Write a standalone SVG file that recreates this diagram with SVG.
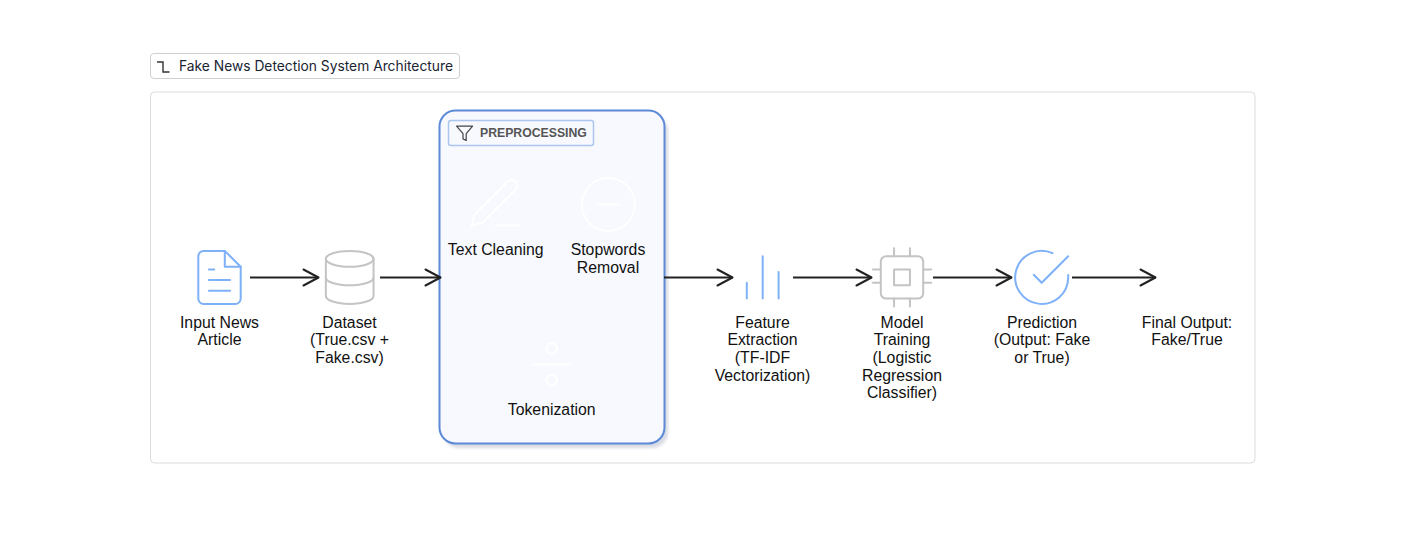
<svg xmlns="http://www.w3.org/2000/svg" width="1409" height="557" viewBox="0 0 1409 557">
<style>
.lbl{font-family:"Liberation Sans",Arial,sans-serif;font-size:15.800px;fill:#111;text-anchor:middle}
.ico{fill:none;stroke-width:.76;stroke-linecap:round;stroke-linejoin:round}
.blue{stroke:#7fb1f8}.grey{stroke:#c4c4c4}.white{stroke:#fff}
.conn{fill:none;stroke:#222;stroke-width:2;marker-end:url(#arr)}
</style>
<defs>
<marker id="arr" markerUnits="userSpaceOnUse" viewBox="-17 -10 19 20" refX="0" refY="0" markerWidth="19" markerHeight="20" orient="auto"><path d="M-15-8L0 0L-15 8" fill="none" stroke="#222" stroke-width="2" stroke-linecap="round" stroke-linejoin="round"/></marker>
<filter id="soft" x="-5%" y="-5%" width="110%" height="110%"><feGaussianBlur stdDeviation="1.500"/></filter>
</defs>
<rect width="1409" height="557" fill="#fff"/>
<g id="title">
<rect x="150.500" y="53.500" width="309" height="25" rx="3.500" fill="#fff" stroke="#d0d0d0"/>
<path d="M157.500 62H163V72H169" fill="none" stroke="#333" stroke-width="1.400" stroke-linecap="round"/>
<text x="179" y="71" font-family="Inter,'Liberation Sans',sans-serif" font-size="13.800" fill="#1a2433">Fake News Detection System Architecture</text>
</g>
<rect id="card" x="150.500" y="92" width="1104.500" height="371" rx="4" fill="#fff" stroke="#dcdcdc"/>
<g id="preprocessing">
<rect x="443" y="115" width="225" height="333" rx="16" fill="#d8dbe3" filter="url(#soft)"/>
<rect x="439.500" y="110.500" width="225" height="333" rx="16" fill="#f7f9fe" stroke="#5c8ad6" stroke-width="2"/>
<rect x="448.500" y="120.500" width="145" height="25" rx="2.500" fill="#f7f9fe" stroke="#abc7f0" stroke-width="1.500"/>
<path transform="translate(455 123.700) scale(.8)" d="M22 3H2L10 12.460V19L14 21V12.460Z" fill="none" stroke="#444" stroke-width="1.500" stroke-linejoin="round"/>
<text x="480" y="137" font-family="'Liberation Sans',Arial,sans-serif" font-size="12.250" font-weight="700" fill="#555">PREPROCESSING</text>
</g>
<g id="text-cleaning">
<g class="ico white" transform="translate(463.700 172.500) scale(2.650)"><path d="M12 20h9"/><path d="M16.500 3.500a2.121 2.121 0 0 1 3 3L7 19l-4 1 1-4L16.500 3.500z"/></g>
<text class="lbl" x="495.700" y="254.500">Text Cleaning</text>
</g>
<g id="stopwords-removal">
<g class="ico white" transform="translate(576.500 172.700) scale(2.650)"><circle cx="12" cy="12" r="10"/><path d="M8 12h8"/></g>
<text class="lbl" x="608" y="254.500">Stopwords</text><text class="lbl" x="608" y="272.500">Removal</text>
</g>
<g id="tokenization">
<g class="ico white" transform="translate(519.900 332.700) scale(2.650)"><circle cx="12" cy="6" r="2"/><path d="M5 12h14"/><circle cx="12" cy="18" r="2"/></g>
<text class="lbl" x="551.700" y="414.500">Tokenization</text>
</g>
<g id="connectors">
<path class="conn" d="M250 277.500H318.500"/>
<path class="conn" d="M380 277.500H440.500"/>
<path class="conn" d="M664 277.500H732.500"/>
<path class="conn" d="M793 277.500H871.500"/>
<path class="conn" d="M933 277.500H1011.500"/>
<path class="conn" d="M1072 277.500H1155.500"/>
</g>
<g id="input-news-article">
<g class="ico blue" transform="translate(187.700 245.600) scale(2.650)"><path d="M14 2H6a2 2 0 0 0-2 2v16a2 2 0 0 0 2 2h12a2 2 0 0 0 2-2V8z"/><path d="M14 2V8H20"/><path d="M16 13H8M16 17H8M10 9H8"/></g>
<text class="lbl" x="219.500" y="327.800">Input News</text><text class="lbl" x="219.500" y="345">Article</text>
</g>
<g id="dataset">
<g class="ico grey" transform="translate(317.900 245.600) scale(2.650)"><ellipse cx="12" cy="5" rx="9" ry="3"/><path d="M21 12c0 1.660-4 3-9 3s-9-1.340-9-3"/><path d="M3 5v14c0 1.660 4 3 9 3s9-1.340 9-3V5"/></g>
<text class="lbl" x="349.500" y="327.800">Dataset</text><text class="lbl" x="349.500" y="345">(True.csv +</text><text class="lbl" x="349.500" y="362.500">Fake.csv)</text>
</g>
<g id="feature-extraction">
<g class="ico blue" transform="translate(730.900 245.600) scale(2.650)"><path d="M18 20V10M12 20V4M6 20V14"/></g>
<text class="lbl" x="762.500" y="327.800">Feature</text><text class="lbl" x="762.500" y="345">Extraction</text><text class="lbl" x="762.500" y="362.500">(TF-IDF</text><text class="lbl" x="762.500" y="380.500">Vectorization)</text>
</g>
<g id="model-training">
<g class="ico grey" transform="translate(870.200 245.600) scale(2.650)"><rect x="4" y="4" width="16" height="16" rx="2"/><rect x="9" y="9" width="6" height="6"/><path d="M9 1V4M15 1V4M9 20V23M15 20V23M20 9H23M20 14H23M1 9H4M1 14H4"/></g>
<text class="lbl" x="902" y="327.800">Model</text><text class="lbl" x="902" y="345">Training</text><text class="lbl" x="902" y="362.500">(Logistic</text><text class="lbl" x="902" y="380.500">Regression</text><text class="lbl" x="902" y="398">Classifier)</text>
</g>
<g id="prediction">
<g class="ico blue" transform="translate(1009.900 245.600) scale(2.650)"><path d="M22 11.080V12a10 10 0 1 1-5.930-9.140"/><path d="M22 4L12 14.010L9 11.010"/></g>
<text class="lbl" x="1042" y="327.800">Prediction</text><text class="lbl" x="1042" y="345">(Output: Fake</text><text class="lbl" x="1042" y="362.500">or True)</text>
</g>
<g id="final-output">
<text class="lbl" x="1187" y="327.800">Final Output:</text><text class="lbl" x="1187" y="345">Fake/True</text>
</g>
</svg>
